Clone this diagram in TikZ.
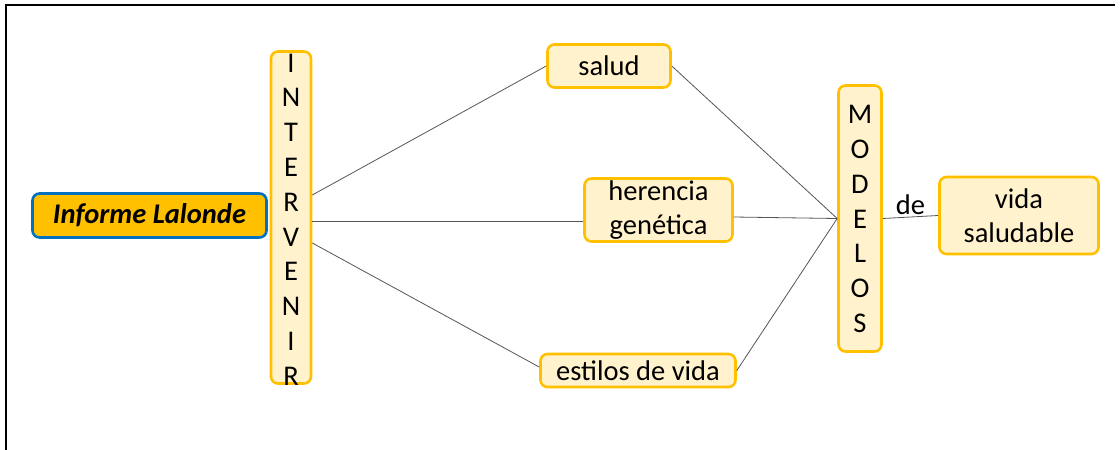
\documentclass[tikz,border=0pt]{standalone}
\usepackage{fontspec}
\setmainfont{Carlito}
\definecolor{gold}{HTML}{FFC000}
\definecolor{paleyellow}{HTML}{FFF2CC}
\definecolor{bluebd}{HTML}{0070C0}
\definecolor{linegray}{HTML}{555555}
\tikzset{
  ybox/.style={draw=gold, fill=paleyellow, line width=2.6pt, rounded corners=7pt, inner sep=0pt, align=center, font=\fontsize{28.5}{33.5}\selectfont},
  bluebox/.style={draw=bluebd, fill=gold, line width=2.6pt, rounded corners=7pt, inner sep=0pt, align=center, font=\fontsize{28.5}{33.5}\selectfont\bfseries\itshape},
  vtext/.style={inner sep=0pt, align=center, font=\fontsize{28.5}{34.8}\selectfont},
  conn/.style={draw=linegray, line width=0.8pt},
  lbl/.style={font=\fontsize{28.5}{30}\selectfont, inner sep=2pt}
}
\begin{document}
\begin{tikzpicture}[x=1pt,y=-1pt]
\useasboundingbox (0,0) rectangle (1120,450);
\draw[line width=2pt] (6,451) -- (6,5) -- (1115,5);

\node[bluebox, minimum width=234, minimum height=44] (informe) at (149.5,215.5) {Informe Lalonde};
\node[ybox, minimum width=40, minimum height=332] (intervenir) at (291,217.5) {};
\node[vtext] (intervenirtxt) at (291,219.6) {I\\N\\T\\E\\R\\V\\E\\N\\I\\R};
\node[ybox, minimum width=123, minimum height=43] (salud) at (609,66) {salud};
\node[ybox, minimum width=148, minimum height=63] (herencia) at (658.5,210) {herencia\\genética};
\node[ybox, minimum width=195, minimum height=33] (estilos) at (638,370.5) {estilos de vida};
\node[ybox, minimum width=43, minimum height=266] (modelos) at (860,218.5) {};
\node[vtext] (modelostxt) at (860,219) {M\\O\\D\\E\\L\\O\\S};
\node[ybox, minimum width=159, minimum height=77] (vida) at (1019,215.5) {vida\\saludable};

\draw[conn] ([yshift=22.5pt]intervenir.east) -- (salud.west);
\draw[conn] ([yshift=-3.5pt]intervenir.east) -- ([yshift=-11pt]herencia.west);
\draw[conn] ([yshift=-25.5pt]intervenir.east) -- ([yshift=3.5pt]estilos.west);
\draw[conn] (salud.east) -- (modelos.west);
\draw[conn] ([yshift=-7pt]herencia.east) -- (modelos.west);
\draw[conn] (estilos.east) -- (modelos.west);
\draw[conn] (modelos.east) -- node[lbl, above] (de) {de} (vida.west);
\end{tikzpicture}
\end{document}
